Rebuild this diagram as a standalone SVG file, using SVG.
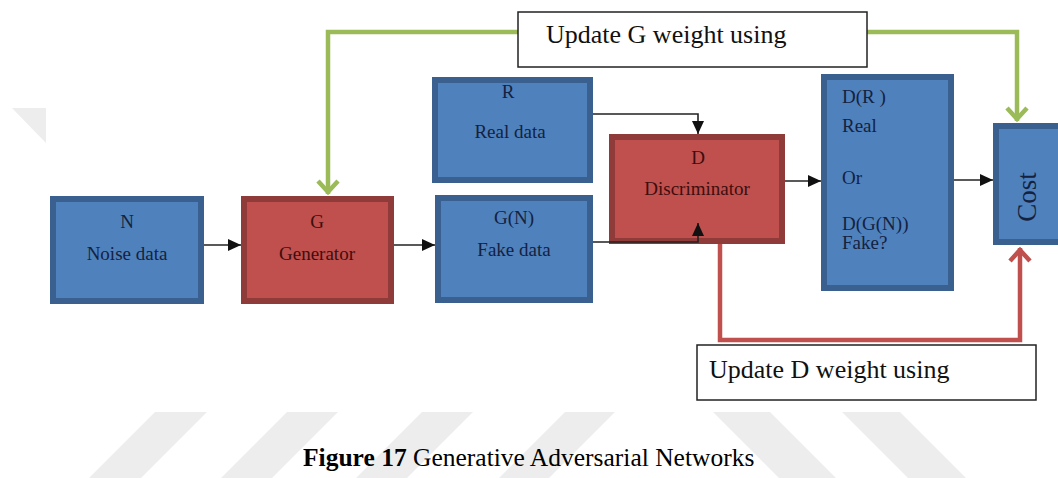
<svg xmlns="http://www.w3.org/2000/svg" width="1058" height="478" viewBox="0 0 1058 478">
<style>
.blue{fill:#4f81bd;stroke:#3a6090;stroke-width:6}
.red{fill:#c0504d;stroke:#8f3b39;stroke-width:6}
.lbl{fill:#fff;stroke:#222;stroke-width:1.5}
.t{font-family:"Liberation Serif","Times New Roman",serif;font-size:19px;text-anchor:middle}
.tb{fill:#14223f}
.tr{fill:#3d0e0e}
.big{font-family:"Liberation Serif","Times New Roman",serif;font-size:26px;fill:#111}
.wm{fill:#ededed}
.blk{fill:none;stroke:#222;stroke-width:1.6}
.grn{fill:none;stroke:#9bbb59;stroke-width:4.5}
.rd{fill:none;stroke:#c0504d;stroke-width:4.5}
</style>
<defs>
<marker id="ab" markerUnits="userSpaceOnUse" markerWidth="13" markerHeight="12" viewBox="0 0 13 12" refX="13" refY="6" orient="auto"><path d="M0,0 L13,6 L0,12 z" fill="#111"/></marker>
<marker id="ag" markerUnits="userSpaceOnUse" markerWidth="20" markerHeight="26" viewBox="0 0 20 26" refX="16" refY="13" orient="auto"><path d="M3,3 L14,13 L3,23" fill="none" stroke="#9bbb59" stroke-width="4.5"/></marker>
<marker id="ar" markerUnits="userSpaceOnUse" markerWidth="20" markerHeight="26" viewBox="0 0 20 26" refX="16" refY="13" orient="auto"><path d="M3,3 L14,13 L3,23" fill="none" stroke="#c0504d" stroke-width="4.5"/></marker>
</defs>
<rect width="1058" height="478" fill="#fff"/>
<g id="watermark">
<polygon class="wm" points="12,108 46,108 46,143"/>
<polygon class="wm" points="155,412 207,412 141,478 89,478"/>
<polygon class="wm" points="287,412 338,412 272,478 221,478"/>
<polygon class="wm" points="422,412 473,412 407,478 356,478"/>
<polygon class="wm" points="565,412 615,412 549,478 499,478"/>
<polygon class="wm" points="713,412 770,412 836,478 779,478"/>
<polygon class="wm" points="842,412 900,412 966,478 908,478"/>
</g>
<g id="connectors">
<path class="grn" d="M518 32 H328 V194" marker-end="url(#ag)"/>
<path class="grn" d="M867 32 H1017 V121" marker-end="url(#ag)"/>
<path class="rd" d="M720 240 V340 H1020 V248" marker-end="url(#ar)"/>
<path class="blk" d="M204 245 H241" marker-end="url(#ab)"/>
<path class="blk" d="M394 245 H435" marker-end="url(#ab)"/>
<path class="blk" d="M593 114 H698 V134" marker-end="url(#ab)"/>
<path class="blk" d="M785 181 H821" marker-end="url(#ab)"/>
<path class="blk" d="M954 180 H993" marker-end="url(#ab)"/>
</g>
<g id="node-N"><rect class="blue" x="53" y="199" width="148" height="102"/>
<text class="t tb" x="127" y="228">N</text><text class="t tb" x="127" y="260">Noise data</text></g>
<g id="node-G"><rect class="red" x="244" y="199" width="147" height="102"/>
<text class="t tr" x="317" y="228">G</text><text class="t tr" x="317" y="260">Generator</text></g>
<g id="node-GN"><rect class="blue" x="438" y="198" width="152" height="102"/>
<text class="t tb" x="514" y="224">G(N)</text><text class="t tb" x="514" y="256">Fake data</text></g>
<g id="node-R"><rect class="blue" x="435" y="80" width="155" height="100"/>
<text class="t tb" x="508" y="98">R</text><text class="t tb" x="510" y="138">Real data</text></g>
<g id="node-D"><rect class="red" x="612" y="137" width="170" height="104"/>
<text class="t tr" x="698" y="164">D</text><text class="t tr" x="697" y="195">Discriminator</text></g>
<path class="blk" d="M593 242 H698 V223" marker-end="url(#ab)"/>
<g id="node-DR"><rect class="blue" x="824" y="77" width="127" height="211"/>
<g class="t tb" style="text-anchor:start"><text x="842" y="103">D(R )</text><text x="842" y="132">Real</text><text x="842" y="184">Or</text><text x="842" y="230">D(G(N))</text><text x="842" y="249">Fake?</text></g></g>
<g id="node-Cost"><rect class="blue" x="996" y="126" width="70" height="116"/>
<text class="t tb" style="font-size:27px" transform="translate(1036 197) rotate(-90)">Cost</text></g>
<g id="label-G"><rect class="lbl" x="518" y="12" width="349" height="55"/>
<text class="big" x="546" y="43">Update G weight using</text></g>
<g id="label-D"><rect class="lbl" x="697" y="345" width="339" height="55"/>
<text class="big" x="709" y="378">Update D weight using</text></g>
<text x="303" y="466" font-family="'Liberation Serif','Times New Roman',serif" font-size="25.5" fill="#000"><tspan font-weight="bold">Figure 17</tspan> Generative Adversarial Networks</text>
</svg>
